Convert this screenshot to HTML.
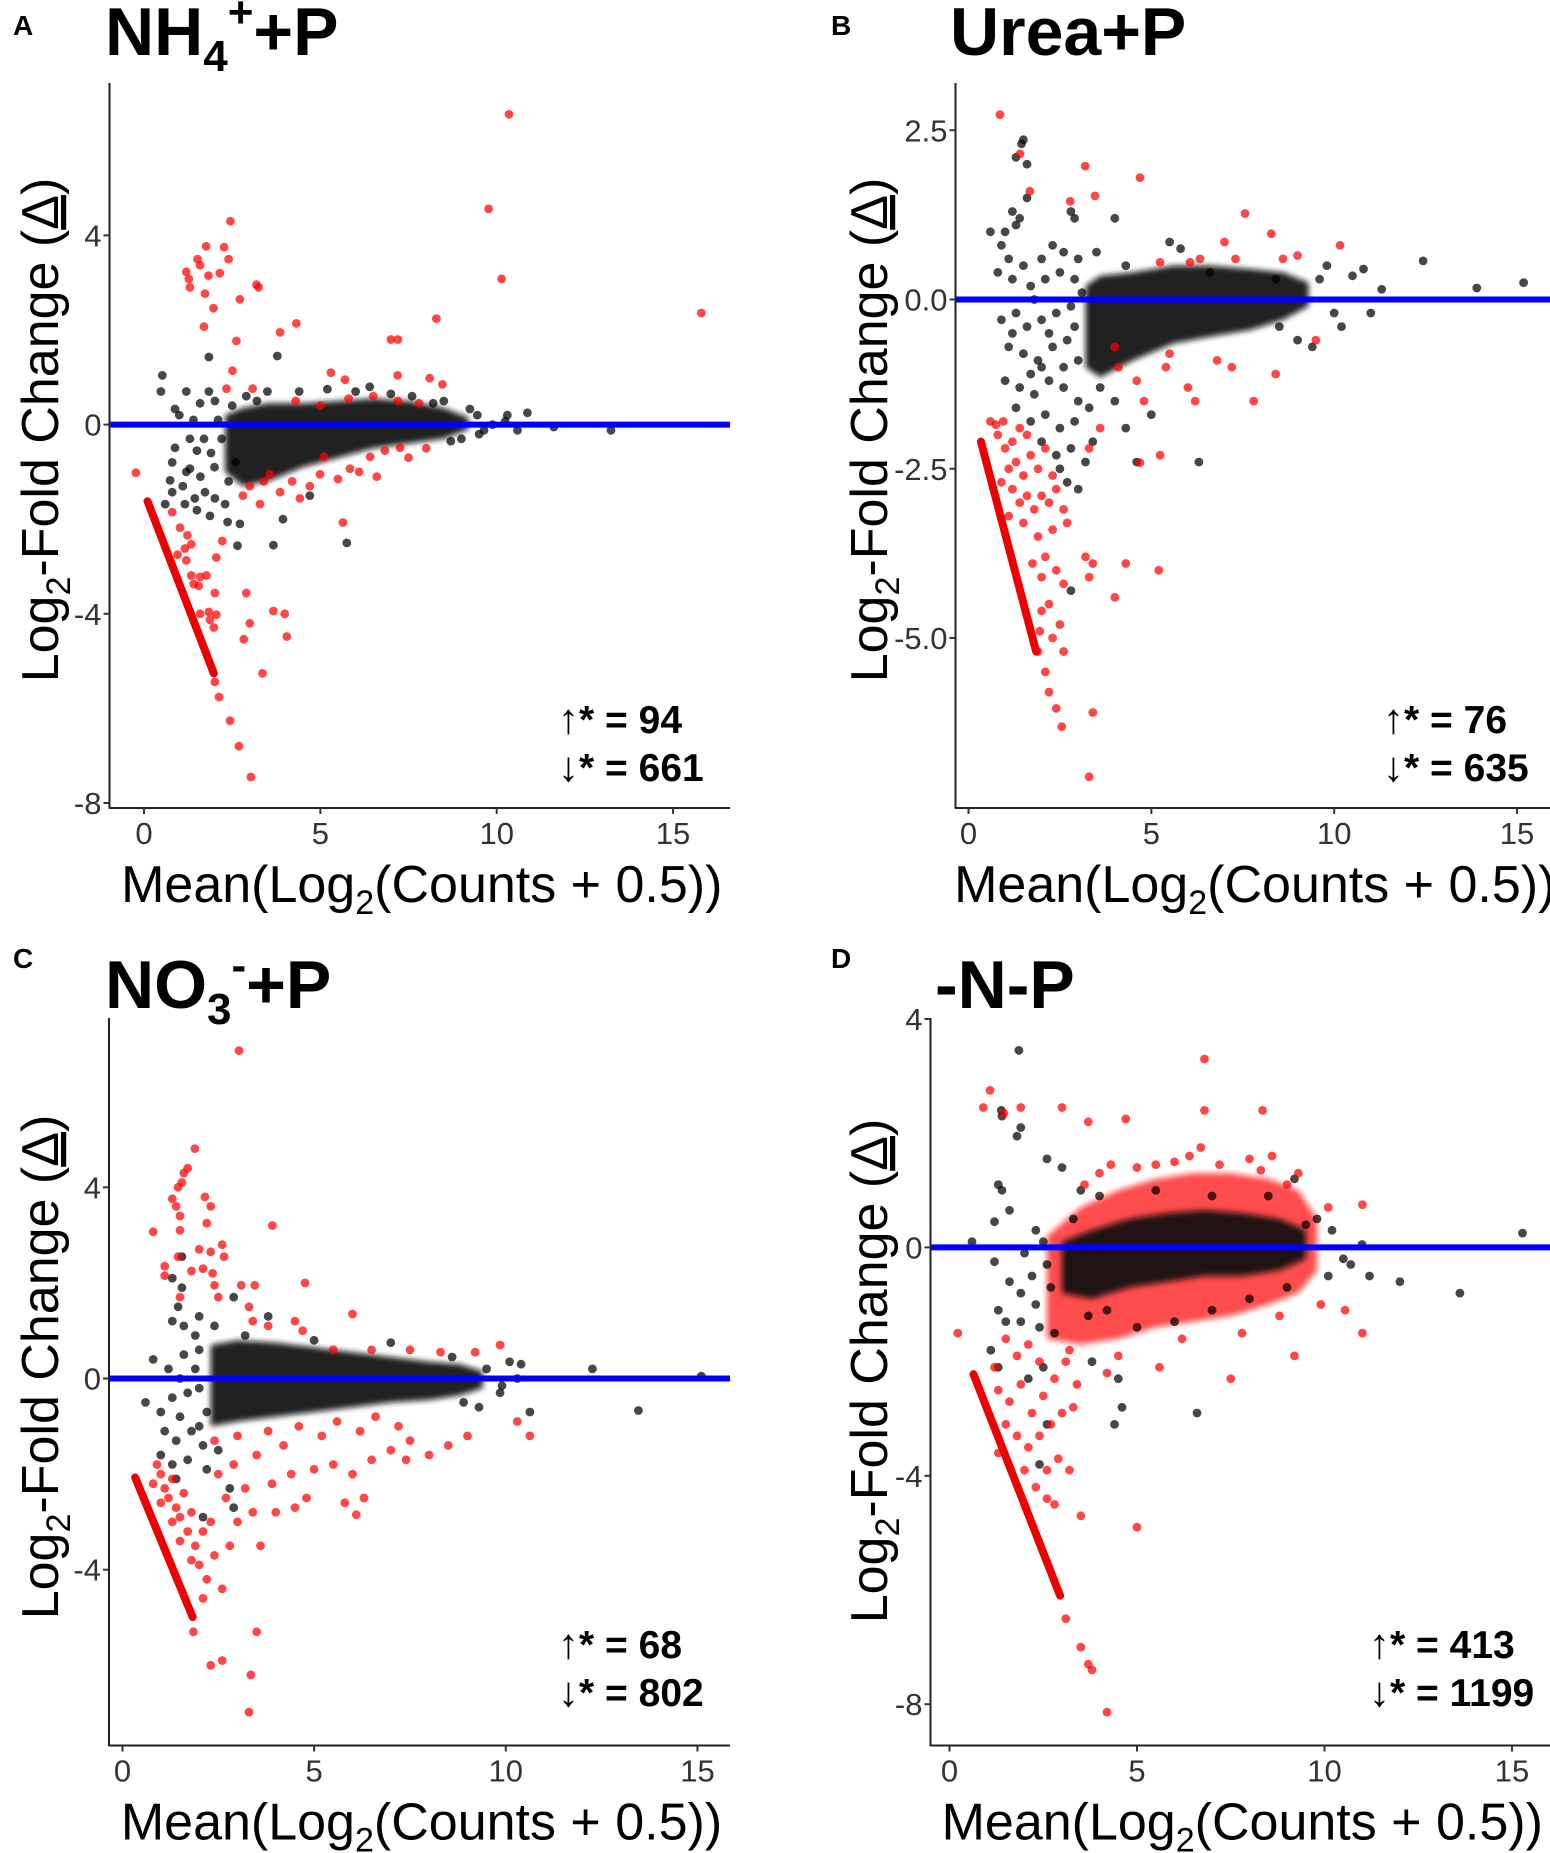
<!DOCTYPE html>
<html><head><meta charset="utf-8"><title>MA plots</title>
<style>
html,body{margin:0;padding:0;background:#fff;}
svg{display:block;font-family:"Liberation Sans",Arial,sans-serif;}
</style></head>
<body>
<svg id="fig" width="1550" height="1853" viewBox="0 0 1550 1853" xmlns="http://www.w3.org/2000/svg">
<defs>
<filter id="soft" x="-10%" y="-30%" width="120%" height="160%"><feGaussianBlur stdDeviation="3"/></filter>
</defs>
<rect width="1550" height="1853" fill="#fff"/>
</svg>
<script>
// ---------- DATA ----------
const xTicks = [0, 5, 10, 15];
const yTicksA = [-8, -4, 0, 4];
const yTicksB = [-5, -2.5, 0, 2.5];
const yTickLabelsB = ["-5.0", "-2.5", "0.0", "2.5"];
const yTicksC = [-4, 0, 4];
const yTicksD = [-8, -4, 0, 4];
const upCounts = [94, 76, 68, 413];
const downCounts = [661, 635, 802, 1199];

// Panel A
const redA = [[10.35,6.56],[9.77,4.56],[10.14,3.08],[15.8,2.36],[8.29,2.24],[7.0,1.8],[7.2,1.8],[2.45,4.3],[1.76,3.77],[2.27,3.75],[1.52,3.5],[1.59,3.37],[1.2,3.23],[1.27,3.08],[1.3,2.9],[2.4,3.5],[2.15,3.2],[1.83,3.15],[1.73,2.77],[1.97,2.46],[2.72,2.65],[3.19,2.96],[3.25,2.9],[4.32,2.14],[3.86,1.95],[2.62,1.77],[1.7,2.07],[2.51,1.14],[2.34,0.76],[3.08,0.76],[5.3,1.1],[5.7,0.95],[7.19,1.04],[8.1,0.98],[8.46,0.85],[-0.23,-1.02],[5.64,-2.07],
[0.8,-1.85],[1.02,-2.18],[1.23,-2.34],[1.34,-2.53],[1.16,-2.62],[0.95,-2.75],[1.2,-2.87],[1.34,-3.19],[1.59,-3.22],[1.77,-3.19],[1.41,-3.37],[1.55,-3.41],[2.01,-3.56],[1.59,-4.0],[1.84,-3.96],[1.87,-4.13],[1.98,-4.29],[2.05,-4.02],[2.05,-2.81],[2.22,-2.46],[2.01,-5.44],[2.13,-5.76],[2.44,-6.26],[2.69,-6.8],[3.03,-7.45],[2.9,-3.56],[3.0,-4.2],[2.83,-4.54],[3.36,-5.26],[3.67,-3.94],[3.99,-4.0],[4.05,-4.48],
[3.29,-1.68],[3.86,-1.43],[4.42,-1.56],[4.99,-1.05],[5.84,-0.93],[6.41,-0.68],[6.83,-0.55],[7.26,-0.49],[5.1,-0.68],[3.57,-1.05],[3.0,-1.3],[4.2,-1.2],[4.7,-1.3],[5.5,-1.15],[6.1,-1.0],[7.5,-0.7],[2.8,-1.5],[3.4,-1.2],[6.6,-1.1],[8.0,-0.5],[5.0,0.4],[6.5,0.6],[7.2,0.5],[4.3,0.5],[5.8,0.55],[7.8,0.45]];
const blackA = [[3.78,1.45],[1.84,1.43],[0.52,1.04],[0.48,0.7],[0.88,0.33],[1.2,0.7],[1.59,0.45],[1.84,0.7],[2.01,0.5],[1.3,-0.3],[0.88,-0.49],[1.5,-0.55],[1.3,-0.93],[0.8,-0.8],[0.74,-1.18],[1.1,-1.3],[0.8,-1.43],[0.6,-1.68],[1.16,-1.68],[1.44,-1.56],[1.73,-1.43],[2.01,-1.56],[2.3,-1.68],[1.87,-1.93],[1.5,-1.81],[2.37,-2.06],[2.72,-2.1],[2.65,-2.56],[3.67,-2.55],[3.94,-2.0],[5.75,-2.5],[4.7,-1.5],[9.24,0.33],[9.45,0.2],[9.64,-0.12],[9.88,0.0],[10.24,0.07],[10.3,0.2],[10.59,-0.12],[10.87,0.25],[11.62,-0.05],[13.24,-0.12],[9.0,-0.3],[8.7,-0.35],[9.5,-0.2],[8.5,0.5],[6.4,0.8],[7.0,0.65],[4.4,0.7],[3.2,0.5],[2.5,0.4],[1.2,-1.0],[2.0,-0.9],[2.4,-1.2],[1.7,-0.3],[2.2,-0.3],[1.0,0.2],[1.4,0.1],[1.9,-0.6],[2.6,-0.8],[2.1,0.1],[1.6,-1.1],[2.9,0.6],[3.5,0.7],[5.2,0.75],[6.0,0.7],[7.6,0.6],[8.2,0.45]];
const coreXA = [2.3,2.8,3.5,4.5,5.5,6.5,7.5,8.5,9.2];
const coreHiA = [0.2,0.35,0.45,0.45,0.5,0.55,0.5,0.35,0.15];
const coreLoA = [-1.0,-1.3,-1.2,-0.9,-0.7,-0.5,-0.4,-0.3,-0.1];
const streakA = [[0.1,-1.62],[1.98,-5.26]];

// Panel B
const redB = [[0.86,2.73],[1.41,2.15],[1.68,1.6],[3.19,1.97],[3.46,1.53],[4.69,1.8],[2.78,1.45],[7.56,1.27],[8.28,0.97],[10.16,0.8],[7.0,0.85],[5.24,0.55],[6.06,0.55],[6.33,0.6],[7.3,0.6],[8.6,0.6],[9.0,0.65],
[4.1,-1.0],[4.6,-1.2],[5.4,-1.0],[6.0,-1.3],[6.2,-1.5],[7.2,-1.0],[7.8,-1.5],[8.4,-1.1],[9.5,-0.6],[5.5,-0.8],[4.0,-0.7],[6.8,-0.9],[4.8,-1.5],[3.6,-1.9],[4.69,-2.41],[5.24,-2.3],[3.3,-2.2],
[0.6,-1.8],[0.75,-1.85],[0.95,-1.8],[0.8,-2.0],[1.0,-2.2],[1.2,-2.1],[1.4,-1.9],[1.6,-2.0],[1.1,-2.5],[1.3,-2.4],[1.5,-2.6],[1.7,-2.3],[1.9,-2.5],[2.1,-2.2],[2.3,-2.6],[0.9,-2.7],[1.2,-2.8],[1.4,-3.0],[1.6,-2.9],[1.8,-3.1],[2.0,-2.9],[2.2,-3.0],[2.4,-2.8],[2.6,-3.1],[1.1,-3.2],[1.5,-3.3],[1.9,-3.5],[2.3,-3.4],[2.7,-3.3],[2.1,-3.8],[1.75,-3.9],[2.0,-4.1],[2.4,-4.0],[2.6,-4.2],[3.2,-3.8],[3.4,-3.9],[3.3,-4.1],[4.0,-4.4],[4.3,-3.9],[5.2,-4.0],[2.2,-4.5],[2.5,-4.8],[2.0,-4.6],[2.3,-5.0],[2.6,-5.2],[2.1,-5.5],[2.2,-5.8],[2.4,-6.04],[2.55,-6.31],[3.4,-6.1],[3.3,-7.05],[1.9,-5.2],[1.95,-4.9]];
const blackB = [[1.5,2.36],[1.45,2.3],[1.3,2.1],[1.6,2.0],[1.6,1.5],[2.8,1.3],[2.9,1.2],[4.0,1.2],[1.2,1.3],[1.0,1.0],[1.3,1.1],[1.4,1.2],[0.6,1.0],[5.5,0.85],[0.9,0.8],[1.1,0.6],[1.5,0.5],[2.0,0.6],[2.3,0.8],[2.6,0.7],[3.0,0.6],[0.8,0.4],[1.2,0.3],[1.7,0.2],[2.1,0.3],[2.5,0.4],[2.9,0.3],[0.9,-0.3],[1.3,-0.2],[1.6,-0.4],[2.0,-0.3],[2.4,-0.2],[2.8,-0.1],[1.1,-0.7],[1.5,-0.8],[1.9,-0.9],[2.3,-0.7],[2.7,-0.6],[3.0,-0.9],[1.0,-1.2],[1.4,-1.3],[1.8,-1.4],[2.2,-1.2],[2.6,-1.3],[3.0,-1.5],[1.3,-1.6],[1.7,-1.8],[2.1,-1.7],[2.5,-1.9],[2.9,-1.8],[3.3,-1.6],[2.0,-2.1],[2.4,-2.3],[2.8,-2.2],[3.2,-2.4],[2.7,-2.7],[3.0,-2.8],[3.4,-2.1],[3.6,-1.3],[4.0,-1.5],[4.3,-1.9],[4.6,-2.4],[6.3,-2.4],[5.0,-1.7],[2.8,-4.3],[2.5,-2.5],[9.6,0.3],[9.8,0.5],[10.0,-0.2],[10.2,-0.4],[10.5,0.35],[10.8,0.45],[11.0,-0.2],[11.3,0.15],[12.43,0.57],[13.9,0.17],[15.18,0.25],[9.4,-0.7],[9.0,-0.6],[8.5,-0.4],[3.5,0.7],[4.3,0.5],[5.8,0.75],[6.6,0.4],[8.4,0.3],[1.8,0.0],[2.2,-0.5],[2.6,-1.0],[1.2,-0.5],[2.0,-1.0],[2.9,-0.4],[3.1,0.1],[1.7,-1.1]];
const coreXB = [3.2,3.6,4.5,5.6,6.6,7.7,8.6,9.3];
const coreHiB = [0.2,0.35,0.4,0.5,0.5,0.45,0.4,0.25];
const coreLoB = [-1.0,-1.15,-0.9,-0.65,-0.55,-0.45,-0.3,-0.1];
const streakB = [[0.34,-2.1],[1.85,-5.2]];

// Panel C
const redC = [[3.04,6.86],[1.89,4.81],[1.7,4.4],[1.6,4.3],[1.55,4.1],[1.45,4.0],[1.3,3.76],[1.4,3.6],[1.5,3.4],[1.5,3.1],[0.8,3.07],[2.15,3.8],[2.3,3.6],[2.2,3.25],[3.91,3.2],[2.6,2.8],[2.65,2.55],[2.3,2.65],[2.0,2.7],[1.45,2.55],[1.1,2.35],[1.1,2.15],[1.8,2.25],[2.1,2.3],[2.35,2.2],[2.4,1.95],[2.5,1.7],[1.5,1.7],[3.1,1.95],[3.45,1.95],[4.76,2.0],[3.3,1.5],[3.4,1.2],[3.8,1.1],[4.5,1.2],[4.7,1.0],[6.0,1.35],[5.5,0.6],[6.5,0.6],[7.5,0.6],[8.3,0.55],[9.2,0.55],[9.85,0.7],
[0.9,-1.8],[1.0,-2.0],[0.8,-2.2],[1.1,-2.3],[1.3,-2.1],[1.2,-2.5],[1.0,-2.6],[1.4,-2.7],[1.6,-2.4],[1.5,-2.9],[1.3,-3.0],[1.8,-2.8],[1.7,-3.2],[1.5,-3.4],[1.9,-3.5],[2.1,-3.2],[2.3,-3.0],[1.8,-3.8],[2.0,-3.9],[2.2,-4.2],[2.4,-3.7],[2.6,-4.4],[2.1,-4.6],[1.85,-5.3],[2.3,-6.0],[2.6,-5.9],[3.5,-5.3],[3.35,-6.2],[3.3,-6.98],[2.8,-3.5],[3.0,-3.0],[3.4,-2.8],[3.6,-3.5],[4.0,-2.8],[4.5,-2.7],[2.7,-2.5],[3.2,-2.3],[3.9,-2.2],[4.4,-2.0],[5.0,-1.9],[5.5,-1.8],[6.0,-2.0],[6.3,-2.5],[6.5,-1.7],[7.0,-1.5],[7.5,-1.3],[8.0,-1.6],[8.5,-1.4],[9.0,-1.2],[10.63,-1.2],[10.3,-0.9],[4.2,-1.4],[5.2,-1.2],[6.2,-1.1],[7.2,-1.0],[3.5,-1.6],[2.9,-1.8],[2.5,-2.0],[5.8,-2.6],[6.1,-2.85],[4.8,-2.5],[7.4,-1.7],[3.0,-1.2],[3.8,-1.1],[4.6,-1.0],[5.6,-0.9],[6.6,-0.8],[2.4,-1.3]];
const blackC = [[1.55,2.55],[1.3,2.1],[1.55,1.9],[1.45,1.5],[2.9,1.7],[1.3,1.2],[1.6,1.1],[2.0,1.3],[2.4,1.1],[1.9,0.9],[0.8,0.4],[1.2,0.2],[1.6,0.5],[2.0,0.6],[0.6,-0.5],[1.0,-0.7],[1.3,-0.4],[1.7,-0.3],[2.0,-0.2],[1.1,-1.1],[1.4,-1.3],[1.8,-1.1],[2.1,-1.4],[1.0,-1.6],[1.3,-1.8],[1.7,-1.7],[2.2,-1.9],[1.4,-2.1],[2.8,-2.3],[2.9,-2.7],[2.1,-2.9],[2.5,-1.5],[9.5,0.2],[9.85,-0.3],[10.1,0.35],[10.3,0.0],[10.63,-0.7],[10.4,0.3],[12.26,0.2],[13.46,-0.67],[15.1,0.05],[9.3,-0.6],[8.9,-0.5],[9.9,-0.15],[3.8,1.3],[3.2,0.9],[5.0,0.8],[7.0,0.75],[8.6,0.45],[1.5,0.0],[1.9,0.2],[2.2,-0.7],[1.5,-0.8],[2.0,-1.0]];
const coreXC = [2.3,3.0,4.0,5.0,6.0,7.0,8.0,8.8,9.4];
const coreHiC = [0.7,0.8,0.75,0.65,0.55,0.45,0.35,0.3,0.15];
const coreLoC = [-1.0,-0.9,-0.8,-0.7,-0.6,-0.5,-0.45,-0.35,-0.2];
const streakC = [[0.33,-2.07],[1.83,-4.99]];

// Panel D
const redD = [[1.08,2.75],[0.9,2.45],[1.9,2.45],[1.45,2.35],[3.0,2.45],[3.7,2.2],[4.7,2.25],[6.8,3.3],[6.8,2.4],[8.35,2.4],[6.7,1.75],[4.3,1.45],[5.5,1.45],[6.4,1.6],[8.0,1.55],[8.6,1.6],[9.3,1.3],[10.1,0.7],[11.01,0.75],[0.22,-1.5],[9.9,-1.0],[10.55,-1.1],[11.01,-1.5],[9.2,-1.9],[7.5,-2.3],[5.6,-2.1],[4.2,-2.2],[1.2,-2.1],[1.5,-1.6],[1.8,-1.9],[2.1,-1.7],[2.4,-2.0],[1.3,-2.5],[1.6,-2.7],[1.9,-2.4],[2.2,-2.9],[2.5,-2.6],[2.8,-2.3],[3.1,-2.0],[3.4,-2.4],[1.5,-3.1],[1.8,-3.3],[2.1,-3.5],[2.4,-3.3],[2.7,-3.1],[3.0,-2.9],[3.3,-2.8],[2.0,-3.9],[2.3,-4.2],[2.6,-3.9],[2.9,-3.7],[3.2,-3.9],[2.6,-4.4],[2.8,-4.5],[3.5,-4.7],[5.0,-4.9],[3.1,-6.5],[3.5,-7.0],[3.7,-7.3],[3.8,-7.4],[4.2,-8.14],[1.3,-3.6],[2.0,-4.5],[3.6,1.1],[4.0,1.3],[5.0,1.4],[6.0,1.5],[7.2,1.45],[8.3,1.35],[9.0,1.1],[3.2,-1.8],[4.5,-1.9],[6.2,-1.6],[7.8,-1.5],[8.8,-1.2]];
const blackD = [[1.85,3.45],[1.38,2.4],[1.4,2.3],[1.9,2.1],[1.8,1.95],[3.0,1.4],[2.6,1.55],[1.3,1.1],[1.4,1.0],[1.6,0.65],[1.2,0.45],[0.6,0.1],[1.2,-0.25],[2.3,0.3],[2.5,0.1],[2.0,-0.1],[2.2,-0.5],[2.6,-0.3],[1.6,-0.6],[1.9,-0.8],[2.3,-1.0],[2.7,-0.7],[1.3,-1.1],[1.5,-1.3],[1.9,-1.3],[2.4,-1.4],[2.8,-1.5],[1.1,-1.8],[1.3,-2.1],[2.1,-2.3],[2.5,-2.1],[3.8,-2.0],[4.5,-2.3],[2.6,-3.1],[2.4,-3.8],[4.6,-2.8],[4.4,-3.1],[6.6,-2.9],[3.5,1.0],[4.0,0.9],[3.3,0.5],[3.7,-1.2],[4.2,-1.1],[5.0,-1.4],[6.0,-1.3],[7.0,-1.1],[8.0,-0.9],[9.0,-0.7],[9.5,0.4],[9.8,0.5],[10.2,0.3],[10.5,-0.2],[10.7,-0.3],[11.0,0.05],[11.2,-0.5],[10.1,-0.5],[12.01,-0.6],[13.61,-0.8],[15.28,0.25],[5.5,1.0],[7.0,0.9],[8.5,0.9],[9.2,1.2]];
const redBandXD = [2.6,3.5,4.5,5.5,6.5,7.5,8.5,9.3,9.8];
const redBandHiD = [0.2,0.7,1.0,1.2,1.3,1.3,1.2,1.0,0.5];
const redBandLoD = [-1.6,-1.7,-1.6,-1.4,-1.3,-1.2,-1.0,-0.8,-0.4];
const coreXD = [3.0,3.8,4.8,5.8,6.8,7.8,8.8,9.5];
const coreHiD = [0.1,0.3,0.5,0.6,0.65,0.6,0.5,0.3];
const coreLoD = [-0.8,-0.9,-0.7,-0.6,-0.5,-0.5,-0.4,-0.2];
const streakD = [[0.64,-2.22],[2.95,-6.1]];

// ---------- RENDER ----------
const NS = "http://www.w3.org/2000/svg";
const svg = document.getElementById("fig");
function mk(tag, attrs, parent){
  const e = document.createElementNS(NS, tag);
  for (const k in attrs) e.setAttribute(k, attrs[k]);
  (parent||svg).appendChild(e);
  return e;
}

const panels = [
  {id:"a", letter:"A", L:109.5, T:83, B:808, R:730, x0:144, xk:35.27, y0:424.6, yk:47.3,
   yTicks:yTicksA, yLabels:null, red:redA, black:blackA, cx:coreXA, chi:coreHiA, clo:coreLoA, streak:streakA,
   titleX:105, titleY:55, letterX:13, letterY:35, yTitleX:58, yTitleY:430, annX:558, annY:733, up:upCounts[0], down:downCounts[0]},
  {id:"b", letter:"B", L:955.5, T:83, B:808, R:1550, x0:968.5, xk:36.57, y0:299.5, yk:67.7,
   yTicks:yTicksB, yLabels:yTickLabelsB, red:redB, black:blackB, cx:coreXB, chi:coreHiB, clo:coreLoB, streak:streakB,
   titleX:950, titleY:55, letterX:831, letterY:35, yTitleX:887, yTitleY:430, annX:1383, annY:733, up:upCounts[1], down:downCounts[1]},
  {id:"c", letter:"C", L:109, T:1018, B:1745.5, R:730, x0:122.5, xk:38.33, y0:1378.5, yk:47.8,
   yTicks:yTicksC, yLabels:null, red:redC, black:blackC, cx:coreXC, chi:coreHiC, clo:coreLoC, streak:streakC,
   titleX:105, titleY:1008, letterX:13, letterY:968, yTitleX:58, yTitleY:1367, annX:558, annY:1658, up:upCounts[2], down:downCounts[2]},
  {id:"d", letter:"D", L:930.5, T:1018, B:1745.5, R:1550, x0:949.5, xk:37.5, y0:1247.4, yk:57.1,
   yTicks:yTicksD, yLabels:null, red:redD, black:blackD, cx:coreXD, chi:coreHiD, clo:coreLoD, streak:streakD,
   rbx:redBandXD, rbhi:redBandHiD, rblo:redBandLoD,
   titleX:935, titleY:1008, letterX:831, letterY:968, yTitleX:887, yTitleY:1371, annX:1369, annY:1658, up:upCounts[3], down:downCounts[3]}
];

function band(p, xs, his, los, sx, sy){
  let pts = [];
  for (let i=0;i<xs.length;i++) pts.push(sx(xs[i]).toFixed(1)+","+sy(his[i]).toFixed(1));
  for (let i=xs.length-1;i>=0;i--) pts.push(sx(xs[i]).toFixed(1)+","+sy(los[i]).toFixed(1));
  return pts.join(" ");
}

panels.forEach(p => {
  const g = mk("g", {});
  
  
  const sx = v => p.x0 + v * p.xk;
  const sy = v => p.y0 - v * p.yk;

  const clipId = "clip-" + p.id;
  const cp = mk("clipPath", {id:clipId}, g);
  mk("rect", {x:p.L, y:p.T-10, width:p.R-p.L+10, height:p.B-p.T+10}, cp);
  const plot = mk("g", {"clip-path":"url(#"+clipId+")"}, g);
  
  

  if (p.rbx) {
    const rb = mk("polygon", {points: band(p, p.rbx, p.rbhi, p.rblo, sx, sy), fill:"#ff1010", "fill-opacity":"0.75", filter:"url(#soft)"}, plot);
    
    
  }
  const core = mk("polygon", {points: band(p, p.cx, p.chi, p.clo, sx, sy), fill:"#0a0a0a", "fill-opacity":"0.92", filter:"url(#soft)"}, plot);
  
  

  p.black.forEach(d => {
    const c = mk("circle", {cx:sx(d[0]).toFixed(1), cy:sy(d[1]).toFixed(1), r:4.4, fill:"#000", "fill-opacity":"0.72"}, plot);
    
    
  });
  const st = mk("line", {x1:sx(p.streak[0][0]), y1:sy(p.streak[0][1]), x2:sx(p.streak[1][0]), y2:sy(p.streak[1][1]), stroke:"#ee0000", "stroke-width":"8", "stroke-linecap":"round"}, plot);
  
  
  p.red.forEach(d => {
    const c = mk("circle", {cx:sx(d[0]).toFixed(1), cy:sy(d[1]).toFixed(1), r:4.4, fill:"#ff0000", "fill-opacity":"0.72"}, plot);
    
    
  });
  const zl = mk("line", {x1:p.L, y1:sy(0), x2:p.R, y2:sy(0), stroke:"#0000ff", "stroke-width":"6"}, g);
  
  

  const ya = mk("line", {x1:p.L, y1:p.T, x2:p.L, y2:p.B+0.5, stroke:"#222", "stroke-width":"2"}, g);
  
  
  const xa = mk("line", {x1:p.L-0.5, y1:p.B, x2:p.R, y2:p.B, stroke:"#222", "stroke-width":"2"}, g);
  
  

  xTicks.forEach(t => {
    const tk = mk("line", {x1:sx(t), y1:p.B, x2:sx(t), y2:p.B+6, stroke:"#333", "stroke-width":"2"}, g);
    
    
    const tl = mk("text", {x:sx(t), y:p.B+36, "text-anchor":"middle", "font-size":"31", fill:"#333"}, g);
    tl.textContent = String(t);
    
    
  });
  p.yTicks.forEach((t, i) => {
    const tk = mk("line", {x1:p.L-6, y1:sy(t), x2:p.L, y2:sy(t), stroke:"#333", "stroke-width":"2"}, g);
    
    
    const tl = mk("text", {x:p.L-8, y:sy(t)+11, "text-anchor":"end", "font-size":"31", fill:"#333"}, g);
    tl.textContent = p.yLabels ? p.yLabels[i] : String(t);
    
    
  });

  const xt = mk("text", {x:(p.L+p.R)/2+2, y:p.B+94, "text-anchor":"middle", "font-size":"52", fill:"#000"}, g);
  xt.innerHTML = 'Mean(Log<tspan font-size="34" dy="12">2</tspan><tspan dy="-12">(Counts + 0.5))</tspan>';
  
  
  const yt = mk("text", {x:0, y:0, "text-anchor":"middle", "font-size":"52", fill:"#000", transform:"translate("+p.yTitleX+","+p.yTitleY+") rotate(-90)"}, g);
  yt.innerHTML = 'Log<tspan font-size="34" dy="12">2</tspan><tspan dy="-12">-Fold Change (</tspan><tspan text-decoration="underline">Δ</tspan>)';
  
  

  const lt = mk("text", {x:p.letterX, y:p.letterY, "font-size":"28", "font-weight":"bold", fill:"#000"}, g);
  lt.textContent = p.letter;
  
  

  const a1 = mk("text", {x:p.annX, y:p.annY, "font-size":"39", "font-weight":"bold", fill:"#000"}, g);
  a1.innerHTML = '<tspan font-weight="normal" font-size="42">↑</tspan>* = ' + p.up;
  
  
  const a2 = mk("text", {x:p.annX, y:p.annY+48, "font-size":"39", "font-weight":"bold", fill:"#000"}, g);
  a2.innerHTML = '<tspan font-weight="normal" font-size="42">↓</tspan>* = ' + p.down;
  
  

  const tt = mk("text", {x:p.titleX, y:p.titleY, "font-size":"68", "font-weight":"bold", fill:"#000"}, g);
  if (p.id === "a") tt.innerHTML = 'NH<tspan font-size="44" dy="16">4</tspan><tspan font-size="44" dy="-44">+</tspan><tspan dy="28">+P</tspan>';
  else if (p.id === "b") tt.textContent = 'Urea+P';
  else if (p.id === "c") tt.innerHTML = 'NO<tspan font-size="44" dy="16">3</tspan><tspan font-size="44" dy="-44">-</tspan><tspan dy="28">+P</tspan>';
  else tt.textContent = '-N-P';
  
  
});
</script>
</body></html>
